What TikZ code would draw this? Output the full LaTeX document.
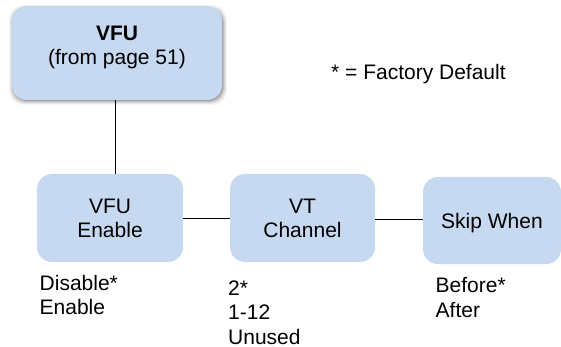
\documentclass[tikz,border=0pt]{standalone}
\usepackage{fontspec}
\setmainfont{Liberation Sans}
\usetikzlibrary{calc}
\definecolor{boxfill}{RGB}{198,217,240}
\begin{document}
\begin{tikzpicture}[x=1pt,y=-1pt,
  box/.style={draw=none, fill=boxfill, rounded corners=15pt, minimum width=145pt, minimum height=88pt, inner sep=0pt, font=\fontsize{21}{24}\selectfont, align=center},
  lbl/.style={anchor=base west, inner sep=0pt, font=\fontsize{21}{24}\selectfont},
  conn/.style={draw=black, line width=0.8pt}]
\useasboundingbox (0,0) rectangle (561,347);
% shadow of top box
\foreach \s/\o in {5/0.04,4/0.06,3/0.08,2/0.11,1/0.14}{
  \fill[black, opacity=\o, rounded corners=15pt] (12-\s+2,6-\s+4) rectangle (222+\s,100+\s);
}
\node[box, minimum width=210pt, minimum height=94pt] (top) at (117,53) {};
\node[inner sep=0pt, align=center, font=\fontsize{21}{24}\selectfont] (toptext) at ($(top.center)+(0,-5.3)$) {\textbf{VFU}\\(from page 51)};
\node[lbl] (fd) at (331,80) {* = Factory Default};

\node[box, minimum width=146pt] (en) at (110,218) {VFU\\Enable};
\node[box] (vt) at (302.5,218) {VT\\Channel};
\node[box, minimum width=138pt, minimum height=87pt, text height=15pt, text depth=0pt] (sk) at (492,220.5) {Skip When};

\coordinate (vstart) at ($(top.south)+(-2,0)$);
\draw[conn] (vstart) -- (vstart |- en.north);
\draw[conn] (en.east) -- (vt.west);
\draw[conn] ($(vt.east)+(0,1)$) -- ($(vt.east -| sk.west)+(0,1)$);

\node[lbl] (d1) at (39.5,290) {Disable*};
\node[lbl] (d2) at (39.5,314) {Enable};
\node[lbl] (c1) at (228,295) {2*};
\node[lbl] (c2) at (228,319.5) {1-12};
\node[lbl] (c3) at (228,344) {Unused};
\node[lbl] (s1) at (435.5,292) {Before*};
\node[lbl] (s2) at (435.5,317) {After};
\end{tikzpicture}
\end{document}
